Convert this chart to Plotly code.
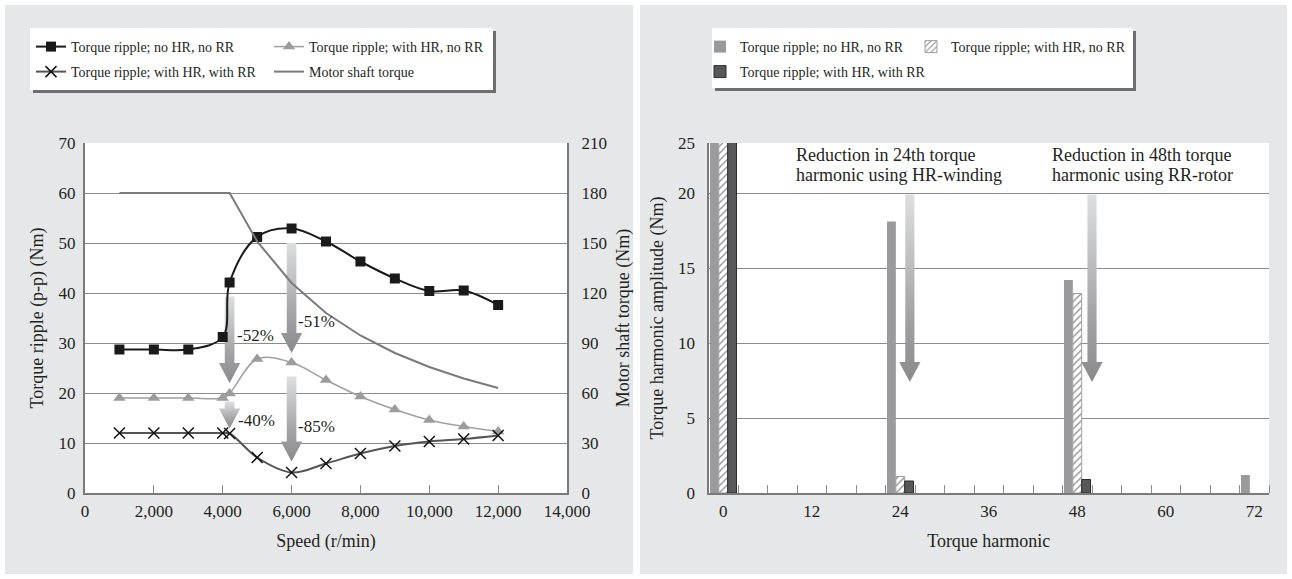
import plotly.graph_objects as go

W, H = 1292, 579

# ---------------- data: left chart ----------------
speed = [1000, 2000, 3000, 4000, 4200, 5000, 6000, 7000, 8000, 9000, 10000, 11000, 12000]
ripple_no_hr_no_rr = [28.7, 28.7, 28.7, 31.2, 42.1, 51.2, 52.9, 50.3, 46.3, 42.9, 40.4, 40.5, 37.6]
ripple_hr_no_rr = [19.0, 19.0, 19.0, 19.0, 19.9, 26.8, 26.1, 22.6, 19.3, 16.7, 14.6, 13.3, 12.3]
ripple_hr_rr = [12.0, 12.0, 12.0, 12.0, 11.9, 7.1, 4.1, 5.9, 7.9, 9.4, 10.3, 10.8, 11.5]
motor_torque = [180, 180, 180, 180, 180, 151, 126, 108, 94.5, 84, 75.6, 68.7, 63]

speed_ticks = [0, 2000, 4000, 6000, 8000, 10000, 12000, 14000]

# reduction arrows (left): x, top, tip, label, label x, label y
left_arrows = [
    (4200, 39.3, 22.0, "-52%", 4350, 31.6),
    (6000, 50.0, 28.0, "-51%", 6130, 34.3),
    (4200, 18.3, 12.9, "-40%", 4380, 14.6),
    (6000, 23.3, 6.3, "-85%", 6130, 13.4),
]

# ---------------- data: right chart ----------------
harmonic = [0, 24, 48, 72]
amp_no_hr_no_rr = [180, 18.1, 14.2, 1.2]
amp_hr_no_rr = [180, 1.1, 13.3, None]
amp_hr_rr = [180, 0.8, 0.9, None]
harmonic_ticks = [0, 12, 24, 36, 48, 60, 72]
harm_y_tickvals = [0, 5, 10, 15, 20, 23.333]
harm_y_ticktext = ["0", "5", "10", "15", "20", "25"]

right_arrows = [
    (25.3, 19.9, 7.4),
    (50.0, 19.9, 7.4),
]
right_notes = [
    (9.6, 22.53, "Reduction in 24th torque"),
    (9.6, 21.20, "harmonic using HR-winding"),
    (44.3, 22.53, "Reduction in 48th torque"),
    (44.3, 21.20, "harmonic using RR-rotor"),
]

FONT = "Liberation Serif, Times New Roman, serif"
TXT = "#231f20"
GRID = "#8c8c8c"
AXL = "#7a7a7a"

fig = go.Figure()

def arrow_poly(xc, yt, yb, sw, hw, hh):
    xs = [xc - sw, xc + sw, xc + sw, xc + hw, xc, xc - hw, xc - sw, xc - sw]
    ys = [yt, yt, yb + hh, yb + hh, yb, yb + hh, yb + hh, yt]
    return xs, ys

grad = dict(type="vertical", colorscale=[[0, "#8a8a8c"], [0.35, "#a3a3a5"], [1, "#dedfe0"]])

# left-chart arrows (under the lines)
for (xc, yt, yb, lab, lx, ly) in left_arrows:
    xs, ys = arrow_poly(xc, yt, yb, 140, 310, 4.0)
    fig.add_trace(go.Scatter(x=xs, y=ys, mode="lines", fill="toself",
                             line=dict(width=0, color="rgba(0,0,0,0)"),
                             fillgradient=grad, fillcolor="#aaaaaa",
                             hoverinfo="skip", showlegend=False,
                             xaxis="x", yaxis="y"))

fig.add_trace(go.Scatter(
    x=speed, y=ripple_no_hr_no_rr, name="Torque ripple; no HR, no RR",
    mode="lines+markers", line=dict(color="#1a1a1a", width=2, shape="spline", smoothing=1),
    marker=dict(symbol="square", size=10, color="#1a1a1a"),
    xaxis="x", yaxis="y", legend="legend"))
fig.add_trace(go.Scatter(
    x=speed, y=ripple_hr_no_rr, name="Torque ripple; with HR, no RR",
    mode="lines+markers", line=dict(color="#a0a0a2", width=1.5, shape="spline", smoothing=1),
    marker=dict(symbol="triangle-up", size=11, color="#9c9c9e"),
    xaxis="x", yaxis="y", legend="legend2"))
fig.add_trace(go.Scatter(
    x=speed, y=ripple_hr_rr, name="Torque ripple; with HR, with RR",
    mode="lines+markers", line=dict(color="#555557", width=2, shape="spline", smoothing=1),
    marker=dict(symbol="x-thin-open", size=11, line=dict(width=1.5, color="#111111"), color="#111111"),
    xaxis="x", yaxis="y", legend="legend3"))
fig.add_trace(go.Scatter(
    x=speed, y=motor_torque, name="Motor shaft torque",
    mode="lines", line=dict(color="#7a7a7c", width=2),
    xaxis="x", yaxis="y2", legend="legend4"))

# bars
fig.add_trace(go.Bar(
    x=harmonic, y=amp_no_hr_no_rr, name="Torque ripple; no HR, no RR",
    width=1.2, offset=-1.8, marker=dict(color="#9a9a9c", line=dict(width=0)),
    xaxis="x3", yaxis="y3", legend="legend5"))
fig.add_trace(go.Bar(
    x=harmonic, y=amp_hr_no_rr, name="Torque ripple; with HR, no RR",
    width=1.2, offset=-0.6,
    marker=dict(color="white", line=dict(width=1, color="#a0a0a0"),
                pattern=dict(shape="/", fgcolor="#8a8a8a", bgcolor="white", size=5, solidity=0.25)),
    xaxis="x3", yaxis="y3", legend="legend6"))
fig.add_trace(go.Bar(
    x=harmonic, y=amp_hr_rr, name="Torque ripple; with HR, with RR",
    width=1.2, offset=0.6, marker=dict(color="#58585a", line=dict(width=1, color="#2a2a2a")),
    xaxis="x3", yaxis="y3", legend="legend7"))

for (xc, yt, yb) in right_arrows:
    xs, ys = arrow_poly(xc, yt, yb, 0.62, 1.45, 1.33)
    fig.add_trace(go.Scatter(x=xs, y=ys, mode="lines", fill="toself",
                             line=dict(width=0, color="rgba(0,0,0,0)"),
                             fillgradient=grad, fillcolor="#aaaaaa",
                             hoverinfo="skip", showlegend=False,
                             xaxis="x3", yaxis="y3"))

def px_x(p):
    return p / W

def px_y(p):
    return 1 - p / H

shapes = []
# white frame / gap
for (x0, y0, x1, y1) in [(0, 0, W, 5), (0, H - 5, W, H), (0, 0, 5, H), (W - 5, 0, W, H), (633, 0, 640, H)]:
    shapes.append(dict(type="rect", xref="paper", yref="paper", layer="below",
                       x0=px_x(x0), x1=px_x(x1), y0=px_y(y0), y1=px_y(y1),
                       fillcolor="white", line=dict(width=0)))
# legend boxes with shadow
for (x0, y0, x1, y1) in [(30, 28, 493, 90), (712, 28, 1133, 88)]:
    shapes.append(dict(type="rect", xref="paper", yref="paper", layer="below",
                       x0=px_x(x0 + 3), x1=px_x(x1 + 3), y0=px_y(y0 + 3), y1=px_y(y1 + 3),
                       fillcolor="#6e6e70", line=dict(width=0)))
    shapes.append(dict(type="rect", xref="paper", yref="paper", layer="below",
                       x0=px_x(x0), x1=px_x(x1), y0=px_y(y0), y1=px_y(y1),
                       fillcolor="white", line=dict(width=0)))

annotations = []
for (xc, yt, yb, lab, lx, ly) in left_arrows:
    annotations.append(dict(x=lx, y=ly, xref="x", yref="y", text=lab, showarrow=False,
                            xanchor="left", yanchor="middle",
                            font=dict(family=FONT, size=17, color=TXT)))
for (nx, ny, t) in right_notes:
    annotations.append(dict(x=nx, y=ny, xref="x3", yref="y3", text=t, showarrow=False,
                            xanchor="left", yanchor="middle",
                            font=dict(family=FONT, size=18, color=TXT)))

dom_y = [86 / H, 436 / H]
tickfont = dict(family=FONT, size=17, color=TXT)
titlefont = dict(family=FONT, size=18, color=TXT)

leg_common = dict(orientation="h", xanchor="left", yanchor="middle",
                  bgcolor="rgba(0,0,0,0)", borderwidth=0,
                  font=dict(family=FONT, size=14, color=TXT))

legend_pos = {
    "legend": (31, 47), "legend2": (269, 47), "legend3": (31, 72), "legend4": (269, 72),
    "legend5": (700, 47), "legend6": (911, 47), "legend7": (700, 72),
}
legend_layout = {k: dict(leg_common, x=px_x(v[0]), y=px_y(v[1])) for k, v in legend_pos.items()}

fig.update_layout(
    template="none",
    width=W, height=H,
    margin=dict(l=0, r=0, t=0, b=0, autoexpand=False),
    paper_bgcolor="#e6e7e8", plot_bgcolor="white",
    barmode="overlay",
    font=dict(family=FONT, color=TXT),
    shapes=shapes, annotations=annotations,
    **legend_layout,
    xaxis=dict(domain=[85 / W, 567 / W], anchor="y", range=[0, 14000], automargin=False,
               tickmode="array", tickvals=speed_ticks, tickformat=",",
               ticks="inside", ticklen=8, tickcolor=GRID, tickwidth=1,
               showline=True, linecolor=AXL, linewidth=2, showgrid=False, zeroline=False,
               tickfont=tickfont, ticklabelstandoff=2,
               title=dict(text="Speed (r/min)", font=titlefont, standoff=14)),
    yaxis=dict(domain=dom_y, anchor="x", range=[0, 70], dtick=10, automargin=False,
               showgrid=True, gridcolor=GRID, gridwidth=1, zeroline=False,
               showline=True, linecolor=AXL, linewidth=2, ticks="",
               tickfont=tickfont, ticklabelstandoff=4,
               title=dict(text="Torque ripple (p-p) (Nm)", font=titlefont, standoff=10)),
    yaxis2=dict(overlaying="y", side="right", anchor="x", range=[0, 210], dtick=30, automargin=False,
                showgrid=False, zeroline=False, showline=True, linecolor=AXL, linewidth=2,
                ticks="", tickfont=tickfont, ticklabelstandoff=9,
                title=dict(text="Motor shaft torque (Nm)", font=titlefont, standoff=10)),
    xaxis3=dict(domain=[708.5 / W, 1269 / W], anchor="y3", range=[-2, 74], automargin=False,
                tickmode="array", tickvals=harmonic_ticks, ticks="",
                minor=dict(ticks="inside", ticklen=8, tickcolor=GRID, tickwidth=1,
                           tickmode="array", tickvals=list(range(2, 75, 4)), showgrid=False),
                showline=True, linecolor=AXL, linewidth=2, showgrid=False, zeroline=False,
                tickfont=tickfont, ticklabelstandoff=2,
                title=dict(text="Torque harmonic", font=titlefont, standoff=14)),
    yaxis3=dict(domain=dom_y, anchor="x3", range=[0, 23.333], automargin=False,
                tickmode="array", tickvals=harm_y_tickvals, ticktext=harm_y_ticktext,
                showgrid=True, gridcolor=GRID, gridwidth=1, zeroline=False,
                showline=True, linecolor=AXL, linewidth=2, ticks="",
                tickfont=tickfont, ticklabelstandoff=8,
                title=dict(text="Torque harmonic amplitude (Nm)", font=titlefont, standoff=10)),
)

fig.write_html("out.html", config={"displayModeBar": False},
               post_script="document.body.style.margin='0px';document.body.style.overflow='hidden';")
